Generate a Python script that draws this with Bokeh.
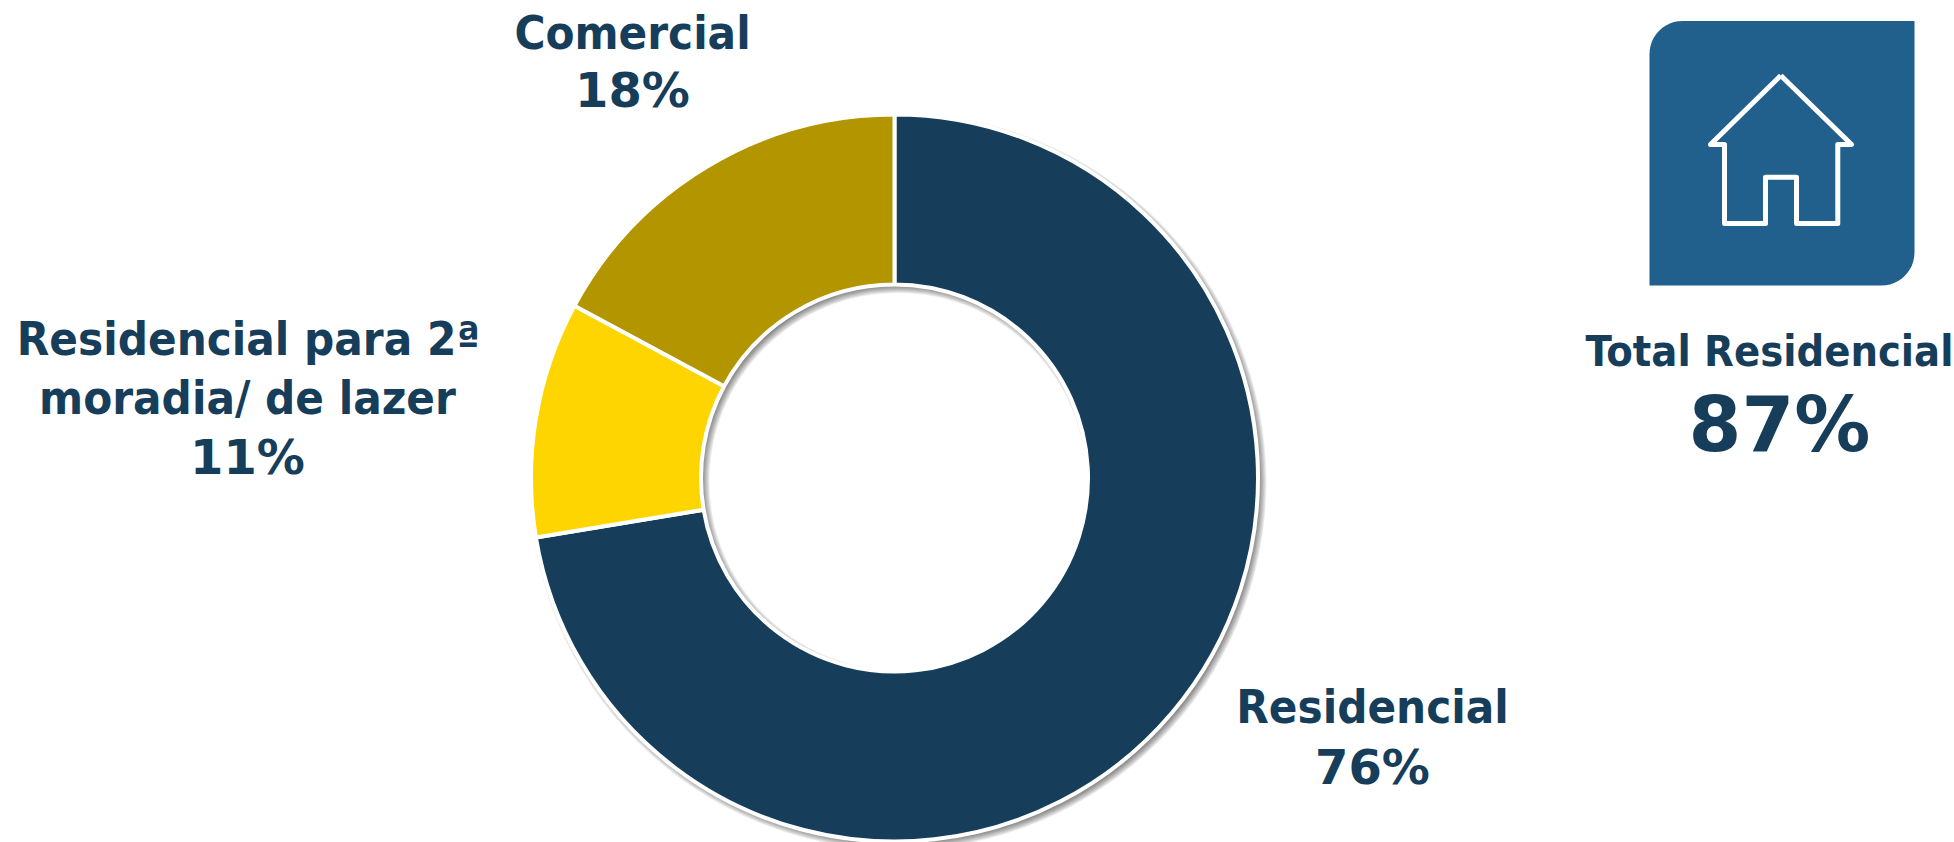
from math import pi, cos, sin
from bokeh.plotting import figure
from bokeh.models import Range1d
from bokeh.core.properties import value
from bokeh.embed import file_html
from bokeh.resources import INLINE

categories = ["Residencial", "Residencial para 2ª moradia/ de lazer", "Comercial"]
shares = [76, 11, 18]
slice_colors = ["#163D59", "#FFD500", "#B39500"]
text_color = "#163D59"
panel_color = "#21608C"
WORD_FONT = "DejaVu Sans Condensed"
NUM_FONT = "DejaVu Sans"

W, H = 1954, 842

p = figure(width=W, height=H, output_backend="svg", toolbar_location=None,
           x_range=Range1d(0, W), y_range=Range1d(0, H),
           min_border=0, outline_line_color=None)
p.axis.visible = False
p.grid.visible = False

def Y(sy):
    return H - sy

CX, CY, RO, RI = 894, 477.5, 363.5, 193.5

# soft shadow of the ring
for k in range(9):
    grow = 5 - k * 1.0
    p.annulus(x=CX + 3.5, y=Y(CY + 3.5), inner_radius=RI - grow, outer_radius=RO + grow,
              fill_color="#000000", fill_alpha=0.07, line_color=None)

# slices: clockwise from 12 o'clock
total = sum(shares)
cum = 0
for s, c in zip(shares, slice_colors):
    start = pi / 2 - 2 * pi * cum / total
    end = pi / 2 - 2 * pi * (cum + s) / total
    p.annular_wedge(x=CX, y=Y(CY), inner_radius=RI, outer_radius=RO,
                    start_angle=end, end_angle=start, direction="anticlock",
                    fill_color=c, line_color="#FFFFFF", line_width=4)
    cum += s

def label(x, y, txt, size, font=WORD_FONT):
    p.text(x=[x], y=[Y(y)], text=[txt], text_color=text_color, text_align="center",
           text_baseline="alphabetic", text_font=value(font), text_font_style="bold",
           text_font_size=f"{size}px")

label(632, 31.5, "Comercial", 47)
label(632, 89.5, "18%", 48, NUM_FONT)
label(248, 338, "Residencial para 2ª", 47)
label(247, 396.5, "moradia/ de lazer", 47)
label(247, 456, "11%", 48, NUM_FONT)
label(1372, 705.5, "Residencial", 47)
label(1372, 766, "76%", 48, NUM_FONT)
label(1769, 350, "Total Residencial", 43)
label(1779, 424, "87%", 76, NUM_FONT)

# icon panel: two rounded corners
L, R_, T, B, rad = 1649, 1914, 20.5, 285, 33
xs, ys = [], []
for i in range(13):
    a = pi + i * (pi / 2) / 12
    xs.append(L + rad + rad * cos(a)); ys.append(T + rad + rad * sin(a))
xs.append(R_); ys.append(T)
for i in range(13):
    a = i * (pi / 2) / 12
    xs.append(R_ - rad + rad * cos(a)); ys.append(B - rad + rad * sin(a))
xs.append(L); ys.append(B)
p.patch(x=xs, y=[Y(v) for v in ys], fill_color=panel_color, line_color=None)

hx = [1780.3, 1851, 1837.3, 1837.3, 1796, 1796, 1765, 1765, 1724, 1724, 1710, 1780.3]
hy = [75, 144, 144, 223, 223, 176.7, 176.7, 223, 223, 144, 144, 75]
p.line(x=hx, y=[Y(v) for v in hy], line_color="#FFFFFF", line_width=5, line_join="round")

open("out.html", "w").write(file_html(p, INLINE))
